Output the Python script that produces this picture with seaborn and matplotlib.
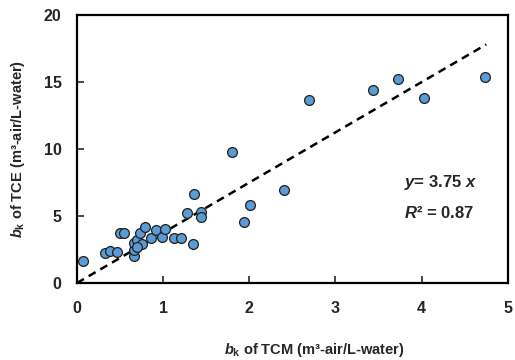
import matplotlib
matplotlib.use("Agg")
import matplotlib.pyplot as plt
import seaborn as sns
import pandas as pd
import numpy as np

# Data
bk_tcm = [0.07, 0.33, 0.38, 0.46, 0.50, 0.54,
          0.66, 0.66, 0.66, 0.70, 0.75, 0.73, 0.79, 0.70,
          0.86, 0.92, 0.99, 1.02, 1.13, 1.21,
          1.28, 1.36, 1.35, 1.44, 1.44,
          1.80, 1.94, 2.01,
          2.40, 2.69, 3.43, 3.72, 4.03, 4.74]
bk_tce = [1.65, 2.25, 2.40, 2.30, 3.75, 3.75,
          2.00, 2.50, 3.00, 3.20, 2.90, 3.70, 4.20, 2.70,
          3.36, 3.96, 3.45, 4.03, 3.36, 3.36,
          5.25, 6.65, 2.90, 5.30, 4.90,
          9.75, 4.55, 5.80,
          6.94, 13.70, 14.40, 15.20, 13.80, 15.40]
slope = 3.75
r2 = 0.87
x_ticks = [0, 1, 2, 3, 4, 5]
y_ticks = [0, 5, 10, 15, 20]

df = pd.DataFrame({"TCM": bk_tcm, "TCE": bk_tce})

sns.set_theme(style="ticks")
plt.rcParams["font.family"] = ["Liberation Sans", "DejaVu Sans"]
plt.rcParams["mathtext.fontset"] = "custom"
plt.rcParams["mathtext.rm"] = "Liberation Sans:bold"
plt.rcParams["mathtext.it"] = "Liberation Sans:bold:italic"
plt.rcParams["mathtext.bf"] = "Liberation Sans:bold"

fig = plt.figure(figsize=(5.15, 3.6), dpi=100)
ax = fig.add_axes([0.1495, 0.2139, 0.8365, 0.7441])

fit_x = np.array([0, 4.75])
sns.lineplot(x=fit_x, y=slope * fit_x, ax=ax, color="black", lw=1.8,
             linestyle=(0, (3.2, 2.2)), zorder=3)
sns.scatterplot(data=df, x="TCM", y="TCE", ax=ax, s=50, color="#5B9BD5",
                edgecolor="#1f1f1f", linewidth=0.9, zorder=4)

ax.set_xlim(0, 5)
ax.set_ylim(0, 20)
ax.set_xticks(x_ticks)
ax.set_yticks(y_ticks)
ax.tick_params(direction="in", length=5, width=1.2, labelsize=11.5)
ax.tick_params(axis="x", pad=13)
ax.tick_params(axis="y", pad=11)
for lab in ax.get_xticklabels() + ax.get_yticklabels():
    lab.set_fontweight("bold")
for sp in ax.spines.values():
    sp.set_visible(True)
    sp.set_linewidth(1.6)
    sp.set_color("black")

ax.set_xlabel(r"$b_\mathregular{k}$ of TCM (m³-air/L-water)", fontsize=10.5,
              fontweight="bold", labelpad=16)
ax.xaxis.set_label_coords(0.55, -0.215)
ax.set_ylabel(r"$b_\mathregular{k}$ of TCE (m³-air/L-water)", fontsize=10.5,
              fontweight="bold", labelpad=12)

ax.text(3.79, 7.5, r"$y$= %.2f $x$" % slope, fontsize=12, fontweight="bold",
        va="center", ha="left")
ax.text(3.79, 5.2, r"$R$² = %.2f" % r2, fontsize=12, fontweight="bold",
        va="center", ha="left")

fig.savefig("out.png", dpi=100)
